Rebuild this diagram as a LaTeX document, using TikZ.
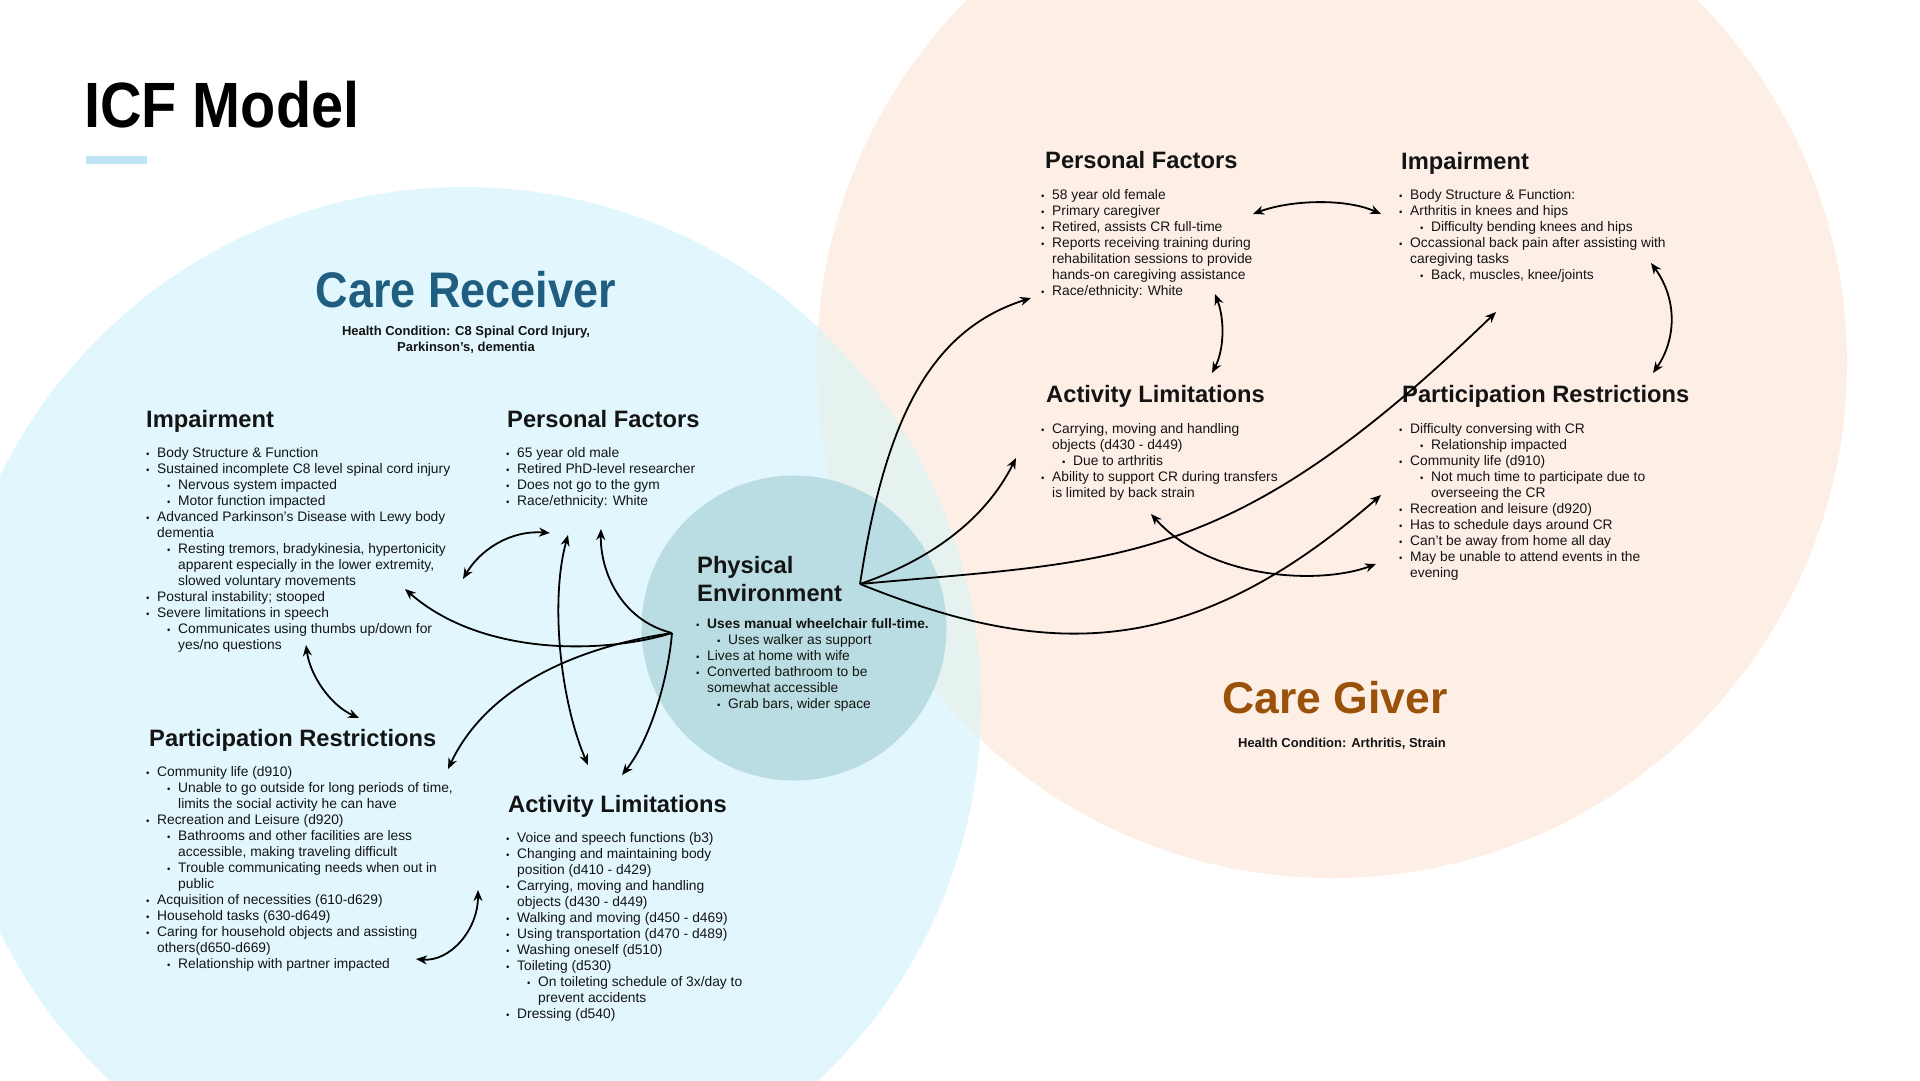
\documentclass[tikz,border=0pt]{standalone}
\usepackage{graphicx}
\usepackage{fontspec}
\setmainfont{Liberation Sans}
\usetikzlibrary{arrows.meta}
\definecolor{crblue}{HTML}{E2F7FD}
\definecolor{cgpeach}{HTML}{FDEFE5}
\definecolor{overlapcol}{HTML}{E6F2F0}
\definecolor{pecol}{HTML}{B9DDE2}
\definecolor{crtitlecol}{HTML}{1F5E80}
\definecolor{cgtitlecol}{HTML}{9A520A}
\definecolor{barcol}{HTML}{BEE3F4}
\definecolor{ink}{HTML}{141414}
\newcommand{\smb}{\scalebox{0.7}{\textbullet}}
\newcommand{\Li}{\makebox[11pt][l]{\smb}}
\newcommand{\Lc}{\hspace*{11pt}}
\newcommand{\Lii}{\hspace*{21pt}\makebox[11pt][l]{\smb}}
\newcommand{\Lic}{\hspace*{32pt}}
\tikzset{
  hd/.style={anchor=base west, inner sep=0pt, font=\fontsize{23.7}{28}\selectfont\bfseries, text=ink},
  lst/.style={anchor=north west, inner sep=0pt, align=left, font=\fontsize{13.8}{16}\selectfont, text=ink},
  arr/.style={-{Stealth[length=11pt,width=9pt]}, line width=1.8pt, black},
  darr/.style={{Stealth[length=11pt,width=9pt]}-{Stealth[length=11pt,width=9pt]}, line width=1.8pt, black}
}
\begin{document}
\begin{tikzpicture}[x=1pt,y=-1pt]
\useasboundingbox (0,0) rectangle (1920,1080);
\fill[white] (0,0) rectangle (1920,1080);
% circles
\fill[crblue] (464,704) circle[radius=517pt];
\fill[cgpeach] (1332,363) circle[radius=515pt];
\begin{scope}
  \clip (464,704) circle[radius=517pt];
  \fill[overlapcol] (1332,363) circle[radius=515pt];
\end{scope}
\fill[pecol] (794,628) circle[radius=152.5pt];

% title
\node[anchor=base west, inner sep=0pt, font=\fontsize{64}{72}\selectfont\bfseries, text=black] (title) at (84,127) {\scalebox{0.9}[1]{ICF Model}};
\node[fill=barcol, anchor=north west, minimum width=61pt, minimum height=8pt, inner sep=0pt] (titlebar) at (86,156) {};

% care receiver
\node[anchor=base, inner sep=0pt, font=\fontsize{50}{56}\selectfont\bfseries, text=crtitlecol] (crtitle) at (466,307) {\scalebox{0.9}[1]{Care Receiver}};
\node[anchor=north, inner sep=0pt, align=center, font=\fontsize{13}{16}\selectfont\bfseries, text=ink] (crsub) at (466,323.8) {\strut Health Condition: C8 Spinal Cord Injury,\\Parkinson’s, dementia};

% care giver
\node[anchor=base, inner sep=0pt, font=\fontsize{44.5}{50}\selectfont\bfseries, text=cgtitlecol] (cgtitle) at (1335,713) {Care Giver};
\node[anchor=base, inner sep=0pt, font=\fontsize{13}{16}\selectfont\bfseries, text=ink] (cgsub) at (1342,747) {Health Condition: Arthritis, Strain};

% left impairment
\node[hd] (impLh) at (146,427) {Impairment};
\node[lst] (impL) at (146,445.8) {\strut\Li Body Structure \& Function\\
\Li Sustained incomplete C8 level spinal cord injury\\
\Lii Nervous system impacted\\
\Lii Motor function impacted\\
\Li Advanced Parkinson’s Disease with Lewy body\\
\Lc dementia\\
\Lii Resting tremors, bradykinesia, hypertonicity\\
\Lic apparent especially in the lower extremity,\\
\Lic slowed voluntary movements\\
\Li Postural instability; stooped\\
\Li Severe limitations in speech\\
\Lii Communicates using thumbs up/down for\\
\Lic yes/no questions};

% left personal factors
\node[hd] (pfLh) at (507,427) {Personal Factors};
\node[lst] (pfL) at (506,445.8) {\strut\Li 65 year old male\\
\Li Retired PhD-level researcher\\
\Li Does not go to the gym\\
\Li Race/ethnicity: White};

% physical environment
\node[anchor=north west, inner sep=0pt, align=left, font=\fontsize{23.7}{28}\selectfont\bfseries, text=ink] (peh) at (697,553.4) {\strut Physical\\Environment};
\node[lst] (pel) at (696,616.8) {\strut\Li \textbf{Uses manual wheelchair full-time.}\\
\Lii Uses walker as support\\
\Li Lives at home with wife\\
\Li Converted bathroom to be\\
\Lc somewhat accessible\\
\Lii Grab bars, wider space};

% left participation
\node[hd] (parLh) at (149,746) {Participation Restrictions};
\node[lst] (parL) at (146,764.8) {\strut\Li Community life (d910)\\
\Lii Unable to go outside for long periods of time,\\
\Lic limits the social activity he can have\\
\Li Recreation and Leisure (d920)\\
\Lii Bathrooms and other facilities are less\\
\Lic accessible, making traveling difficult\\
\Lii Trouble communicating needs when out in\\
\Lic public\\
\Li Acquisition of necessities (610-d629)\\
\Li Household tasks (630-d649)\\
\Li Caring for household objects and assisting\\
\Lc others(d650-d669)\\
\Lii Relationship with partner impacted};

% left activity
\node[hd] (alLh) at (508,812) {Activity Limitations};
\node[lst] (alL) at (506,830.8) {\strut\Li Voice and speech functions (b3)\\
\Li Changing and maintaining body\\
\Lc position (d410 - d429)\\
\Li Carrying, moving and handling\\
\Lc objects (d430 - d449)\\
\Li Walking and moving (d450 - d469)\\
\Li Using transportation (d470 - d489)\\
\Li Washing oneself (d510)\\
\Li Toileting (d530)\\
\Lii On toileting schedule of 3x/day to\\
\Lic prevent accidents\\
\Li Dressing (d540)};

% right personal factors
\node[hd] (pfRh) at (1045,168) {Personal Factors};
\node[lst] (pfR) at (1041,187.8) {\strut\Li 58 year old female\\
\Li Primary caregiver\\
\Li Retired, assists CR full-time\\
\Li Reports receiving training during\\
\Lc rehabilitation sessions to provide\\
\Lc hands-on caregiving assistance\\
\Li Race/ethnicity: White};

% right impairment
\node[hd] (impRh) at (1401,169) {Impairment};
\node[lst] (impR) at (1399,187.8) {\strut\Li Body Structure \& Function:\\
\Li Arthritis in knees and hips\\
\Lii Difficulty bending knees and hips\\
\Li Occassional back pain after assisting with\\
\Lc caregiving tasks\\
\Lii Back, muscles, knee/joints};

% right activity
\node[hd] (alRh) at (1046,402) {Activity Limitations};
\node[lst] (alR) at (1041,421.8) {\strut\Li Carrying, moving and handling\\
\Lc objects (d430 - d449)\\
\Lii Due to arthritis\\
\Li Ability to support CR during transfers\\
\Lc is limited by back strain};

% right participation
\node[hd] (parRh) at (1402,402) {Participation Restrictions};
\node[lst] (parR) at (1399,421.8) {\strut\Li Difficulty conversing with CR\\
\Lii Relationship impacted\\
\Li Community life (d910)\\
\Lii Not much time to participate due to\\
\Lic overseeing the CR\\
\Li Recreation and leisure (d920)\\
\Li Has to schedule days around CR\\
\Li Can’t be away from home all day\\
\Li May be unable to attend events in the\\
\Lc evening};

% connector points
\coordinate (hL) at (672,633);
\coordinate (hR) at (860,584);
\coordinate (a1e) at (405,589);
\coordinate (a2e) at (601,529);
\coordinate (a3e) at (448,769);
\coordinate (a4e) at (622,775);
\coordinate (d1a) at (463,579);
\coordinate (d1b) at (550,533);
\coordinate (d2a) at (568,535);
\coordinate (d2b) at (588,765);
\coordinate (d3a) at (306,645);
\coordinate (d3b) at (359,718);
\coordinate (d4a) at (416,959);
\coordinate (d4b) at (478,890);
\coordinate (b1e) at (1031,298);
\coordinate (b2e) at (1016,458);
\coordinate (b3e) at (1496,312);
\coordinate (b4e) at (1381,495);
\coordinate (e1a) at (1253,214);
\coordinate (e1b) at (1381,214);
\coordinate (e2a) at (1215,294);
\coordinate (e2b) at (1212,373);
\coordinate (e3a) at (1651,263);
\coordinate (e3b) at (1653,373);
\coordinate (e4a) at (1151,514);
\coordinate (e4b) at (1376,564);

% left connectors
\draw[arr] (hL) .. controls (600,655) and (480,655) .. (a1e);
\draw[arr] (hL) .. controls (620,620) and (600,570) .. (a2e);
\draw[arr] (hL) .. controls (590,645) and (490,680) .. (a3e);
\draw[arr] (hL) .. controls (668,680) and (650,740) .. (a4e);
\draw[darr] (d1a) .. controls (480,550) and (510,530) .. (d1b);
\draw[darr] (d2a) .. controls (550,600) and (560,700) .. (d2b);
\draw[darr] (d3a) .. controls (310,675) and (330,705) .. (d3b);
\draw[darr] (d4a) .. controls (450,962) and (478,930) .. (d4b);

% right connectors
\draw[arr] (hR) .. controls (885,420) and (930,330) .. (b1e);
\draw[arr] (hR) .. controls (930,560) and (985,520) .. (b2e);
\draw[arr] (hR) .. controls (1120,560) and (1230,570) .. (b3e);
\draw[arr] (hR) .. controls (1049,660) and (1190,661) .. (b4e);
\draw[darr] (e1a) .. controls (1290,200) and (1345,198) .. (e1b);
\draw[darr] (e2a) .. controls (1225,320) and (1224,350) .. (e2b);
\draw[darr] (e3a) .. controls (1678,300) and (1676,340) .. (e3b);
\draw[darr] (e4a) .. controls (1210,580) and (1320,585) .. (e4b);
\end{tikzpicture}
\end{document}
